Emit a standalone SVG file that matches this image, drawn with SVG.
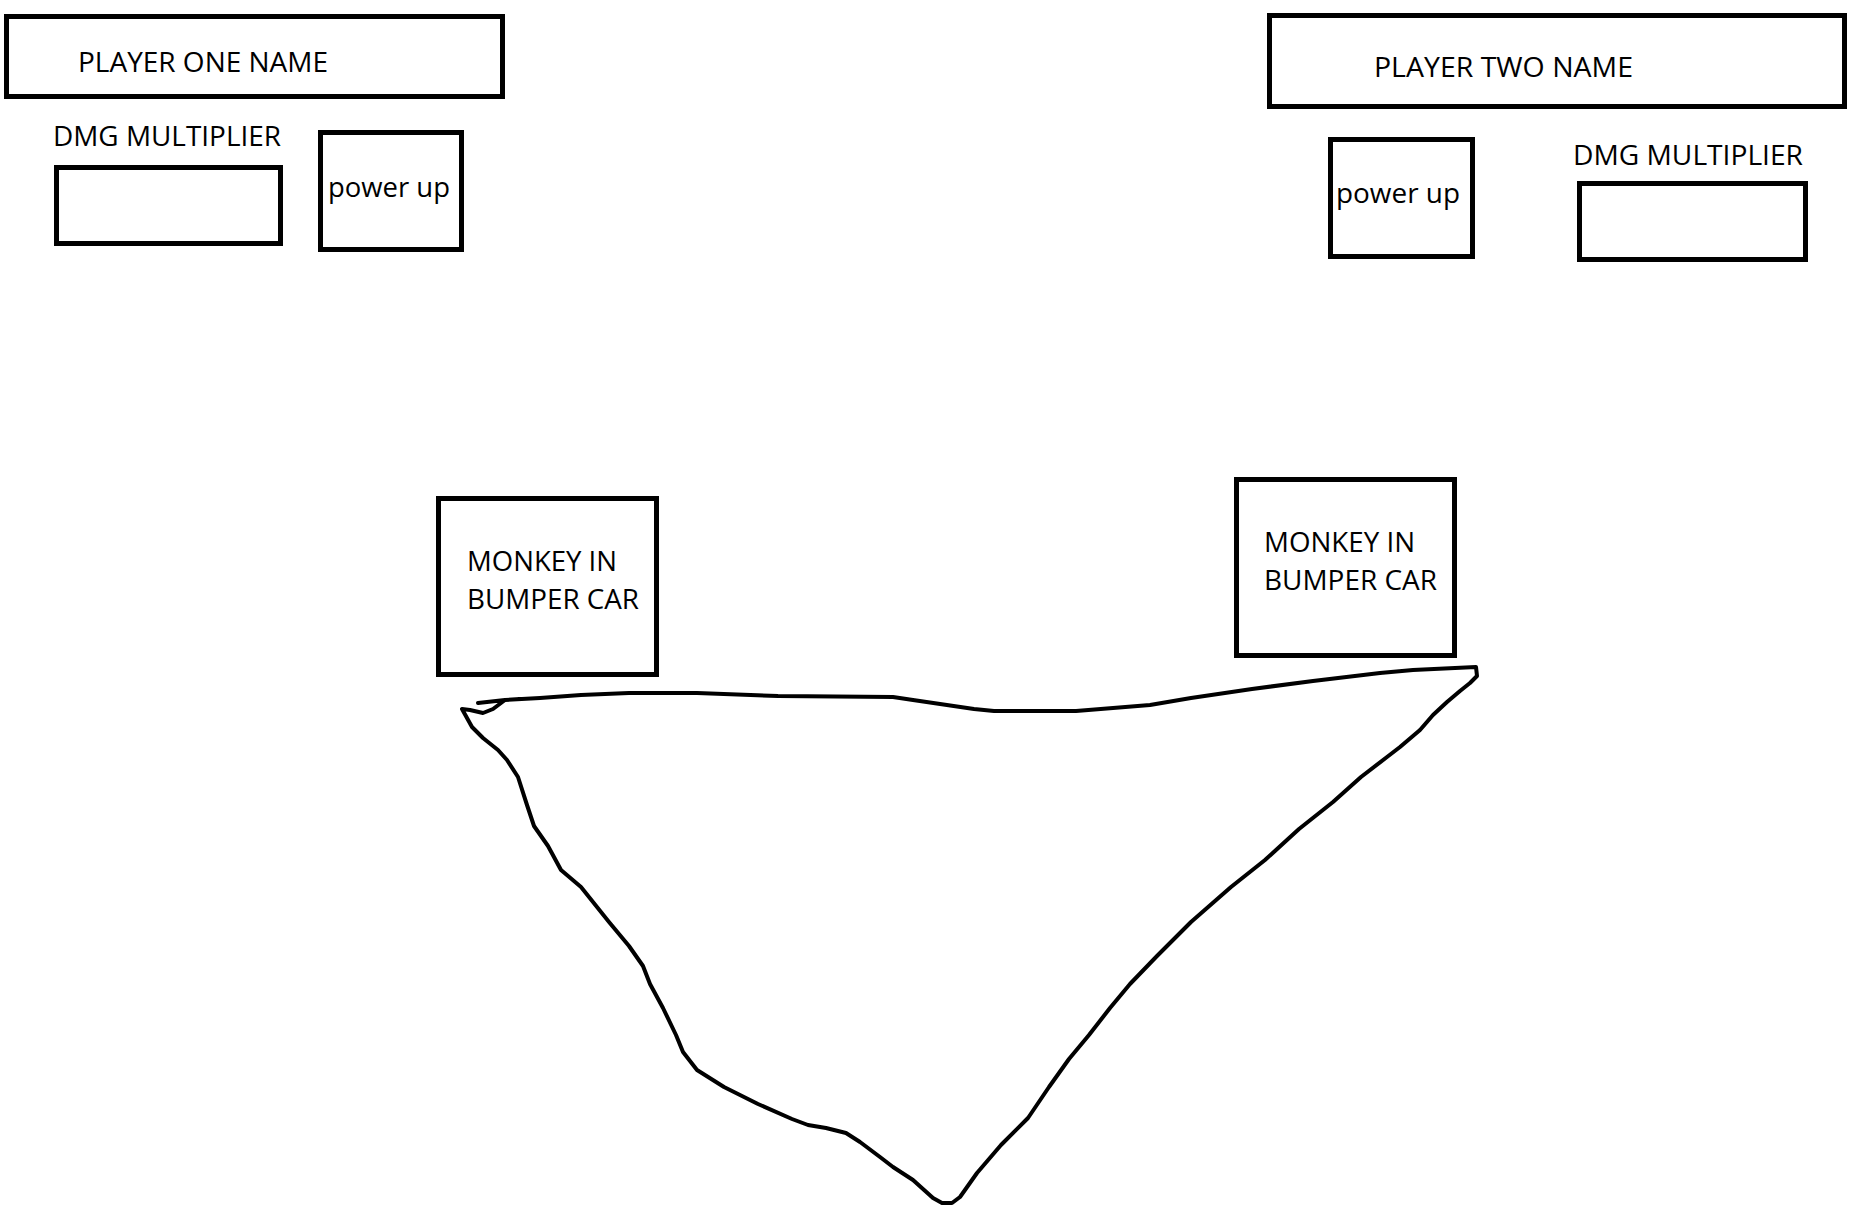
<svg xmlns="http://www.w3.org/2000/svg" width="1860" height="1232" viewBox="0 0 1860 1232">
<style>
.box{fill:none;stroke:#000;stroke-width:5}
.t{font-family:"Open Sans","Noto Sans","DejaVu Sans",sans-serif;font-size:27px;fill:#000}
.draw{fill:none;stroke:#000;stroke-width:4;stroke-linejoin:round;stroke-linecap:round}
</style>
<rect width="1860" height="1232" fill="#fff"/>
<g id="player-one-name">
<rect class="box" x="6.5" y="16.5" width="496" height="80"/>
<text class="t" x="78" y="72" textLength="250" lengthAdjust="spacingAndGlyphs">PLAYER ONE NAME</text>
</g>
<g id="player-one-dmg">
<text class="t" x="53" y="146" textLength="228" lengthAdjust="spacingAndGlyphs">DMG MULTIPLIER</text>
<rect class="box" x="56.5" y="167.5" width="224" height="76"/>
</g>
<g id="player-one-powerup">
<rect class="box" x="320.5" y="132.5" width="141" height="117"/>
<text class="t" x="328" y="197" textLength="122" lengthAdjust="spacingAndGlyphs">power up</text>
</g>
<g id="player-two-name">
<rect class="box" x="1269.5" y="15.5" width="575" height="91"/>
<text class="t" x="1374" y="77" textLength="259" lengthAdjust="spacingAndGlyphs">PLAYER TWO NAME</text>
</g>
<g id="player-two-powerup">
<rect class="box" x="1330.5" y="139.5" width="142" height="117"/>
<text class="t" x="1336" y="203" textLength="124" lengthAdjust="spacingAndGlyphs">power up</text>
</g>
<g id="player-two-dmg">
<text class="t" x="1573" y="165" textLength="230" lengthAdjust="spacingAndGlyphs">DMG MULTIPLIER</text>
<rect class="box" x="1579.5" y="183.5" width="226" height="76"/>
</g>
<g id="monkey-one">
<rect class="box" x="438.5" y="498.5" width="218" height="176"/>
<text class="t" x="467" y="571" textLength="150" lengthAdjust="spacingAndGlyphs">MONKEY IN</text>
<text class="t" x="467" y="609" textLength="172" lengthAdjust="spacingAndGlyphs">BUMPER CAR</text>
</g>
<g id="monkey-two">
<rect class="box" x="1236.5" y="479.5" width="218" height="176"/>
<text class="t" x="1264" y="552" textLength="151" lengthAdjust="spacingAndGlyphs">MONKEY IN</text>
<text class="t" x="1264" y="590" textLength="173" lengthAdjust="spacingAndGlyphs">BUMPER CAR</text>
</g>
<g id="arena">
<path class="draw" d="M 478 703 L 505 700 L 540 698 L 581 695 L 629 693 L 697 693 L 778 696 L 893 697 L 913 700 L 974 709 L 994 711 L 1076 711 L 1150 705 L 1191 698 L 1252 689 L 1313 681 L 1380 673 L 1413 670 L 1476 667 L 1477 676 L 1470 683 L 1460 691 L 1447 702 L 1433 715 L 1420 730 L 1400 747 L 1387 757 L 1361 777 L 1333 802 L 1299 829 L 1265 860 L 1231 887 L 1191 922 L 1157 956 L 1130 984 L 1110 1008 L 1089 1035 L 1069 1059 L 1049 1087 L 1028 1118 L 1001 1145 L 977 1173 L 960 1197 L 952 1203 L 942 1203 L 933 1198 L 913 1180 L 893 1167 L 880 1157 L 860 1142 L 846 1133 L 826 1128 L 808 1125 L 792 1119 L 758 1104 L 724 1087 L 697 1070 L 683 1052 L 676 1035 L 663 1008 L 650 984 L 643 966 L 629 946 L 609 922 L 581 887 L 561 870 L 548 846 L 534 826 L 527 805 L 518 777 L 507 760 L 498 750 L 483 738 L 472 727 L 467 718 L 462 709 L 470 710 L 483 713 L 493 709 L 505 700 L 520 699"/>
</g>
</svg>
